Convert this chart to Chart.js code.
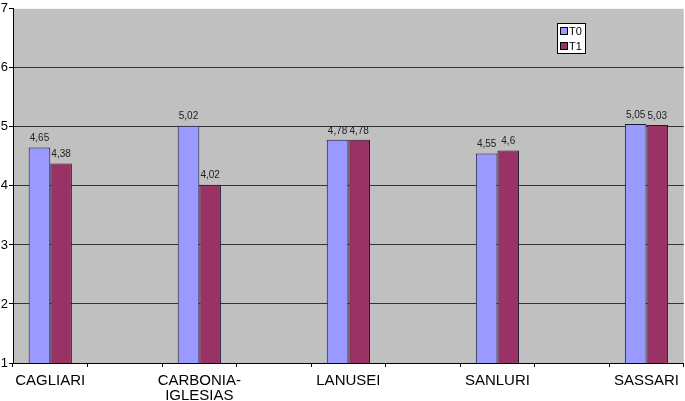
<!DOCTYPE html>
<html>
<head>
<meta charset="utf-8">
<script src="https://cdn.jsdelivr.net/npm/chart.js@4.4.1/dist/chart.umd.min.js"></script>
<style>
html,body{margin:0;padding:0;background:#fff;}
#wrap{position:relative;width:685px;height:401px;}
</style>
</head>
<body>
<div id="wrap"><canvas id="c" width="685" height="401"></canvas></div>
<script>
const categories = [["CAGLIARI"], [""], ["CARBONIA-", "IGLESIAS"], [""], ["LANUSEI"], [""], ["SANLURI"], [""], ["SASSARI"]];
const seriesT0 = [4.65, null, 5.02, null, 4.78, null, 4.55, null, 5.05];
const seriesT1 = [4.38, null, 4.02, null, 4.78, null, 4.6, null, 5.03];
const seriesNames = ["T0", "T1"];
const yTicks = [1, 2, 3, 4, 5, 6, 7];

const bgPlugin = {
  id: 'bg',
  beforeDraw(chart) {
    const {ctx, chartArea: a} = chart;
    ctx.save();
    ctx.fillStyle = '#c0c0c0';
    ctx.fillRect(a.left, a.top, a.right - a.left, a.bottom - a.top);
    ctx.restore();
  }
};

const labelPlugin = {
  id: 'vals',
  afterDatasetsDraw(chart) {
    const ctx = chart.ctx;
    ctx.save();
    ctx.font = '10px Arial, "Liberation Sans", sans-serif';
    ctx.fillStyle = '#222';
    ctx.textAlign = 'center';
    ctx.textBaseline = 'bottom';
    chart.data.datasets.forEach((ds, i) => {
      const meta = chart.getDatasetMeta(i);
      meta.data.forEach((bar, j) => {
        const v = ds.data[j];
        if (v == null) return;
        ctx.fillText(String(v).replace('.', ','), bar.x, bar.y - 4);
      });
    });
    ctx.restore();
  }
};

const legendPlugin = {
  id: 'boxLegend',
  afterDraw(chart) {
    const ctx = chart.ctx;
    const x = 557, y = 23, w = 28, h = 30;
    ctx.save();
    ctx.fillStyle = '#fff';
    ctx.fillRect(x, y, w, h);
    ctx.strokeStyle = '#000';
    ctx.lineWidth = 1;
    ctx.strokeRect(x + 0.5, y + 0.5, w, h);
    ctx.font = '11px Arial, "Liberation Sans", sans-serif';
    ctx.textBaseline = 'middle';
    ctx.textAlign = 'left';
    chart.data.datasets.forEach((ds, i) => {
      const cy = y + 8 + i * 15;
      ctx.fillStyle = ds.backgroundColor;
      ctx.fillRect(x + 4, cy - 3, 6, 6);
      ctx.strokeStyle = '#000';
      ctx.strokeRect(x + 3.5, cy - 3.5, 7, 7);
      ctx.fillStyle = '#000';
      ctx.fillText(ds.label, x + 12, cy + 0.5);
    });
    ctx.restore();
  }
};

new Chart(document.getElementById('c'), {
  type: 'bar',
  data: {
    labels: categories,
    datasets: [
      {label: seriesNames[0], data: seriesT0, backgroundColor: '#9999ff', borderColor: '#1a1a33', borderWidth: 1, borderSkipped: 'bottom'},
      {label: seriesNames[1], data: seriesT1, backgroundColor: '#993366', borderColor: '#1a1a33', borderWidth: 1, borderSkipped: 'bottom'}
    ]
  },
  options: {
    responsive: false,
    animation: false,
    layout: {padding: {top: 0, right: 0, left: 0, bottom: 0}},
    plugins: {legend: {display: false}, tooltip: {enabled: false}},
    datasets: {bar: {categoryPercentage: 0.58, barPercentage: 1}},
    scales: {
      x: {
        offset: true,
        grid: {offset: true, drawOnChartArea: false, drawTicks: true, tickLength: 4, color: '#000'},
        border: {display: true, color: '#000', width: 1},
        ticks: {autoSkip: false, maxRotation: 0, minRotation: 0, color: '#000', padding: 6,
                font: {family: 'Arial, "Liberation Sans", sans-serif', size: 15, lineHeight: 1.0}},
        afterFit(s) { s.height = 38; }
      },
      y: {
        min: 1, max: 7,
        afterBuildTicks(s) { s.ticks = yTicks.map(v => ({value: v})); },
        grid: {
          color: ctx => (ctx.tick && ctx.tick.value === 7) ? 'rgba(0,0,0,0)' : '#333',
          tickColor: '#000', tickLength: 4, drawTicks: true
        },
        border: {display: true, color: '#000', width: 1},
        ticks: {color: '#000', padding: 1,
                font: {family: 'Arial, "Liberation Sans", sans-serif', size: 13}},
        afterFit(s) { s.width = 13; }
      }
    }
  },
  plugins: [bgPlugin, labelPlugin, legendPlugin]
});
</script>
</body>
</html>
